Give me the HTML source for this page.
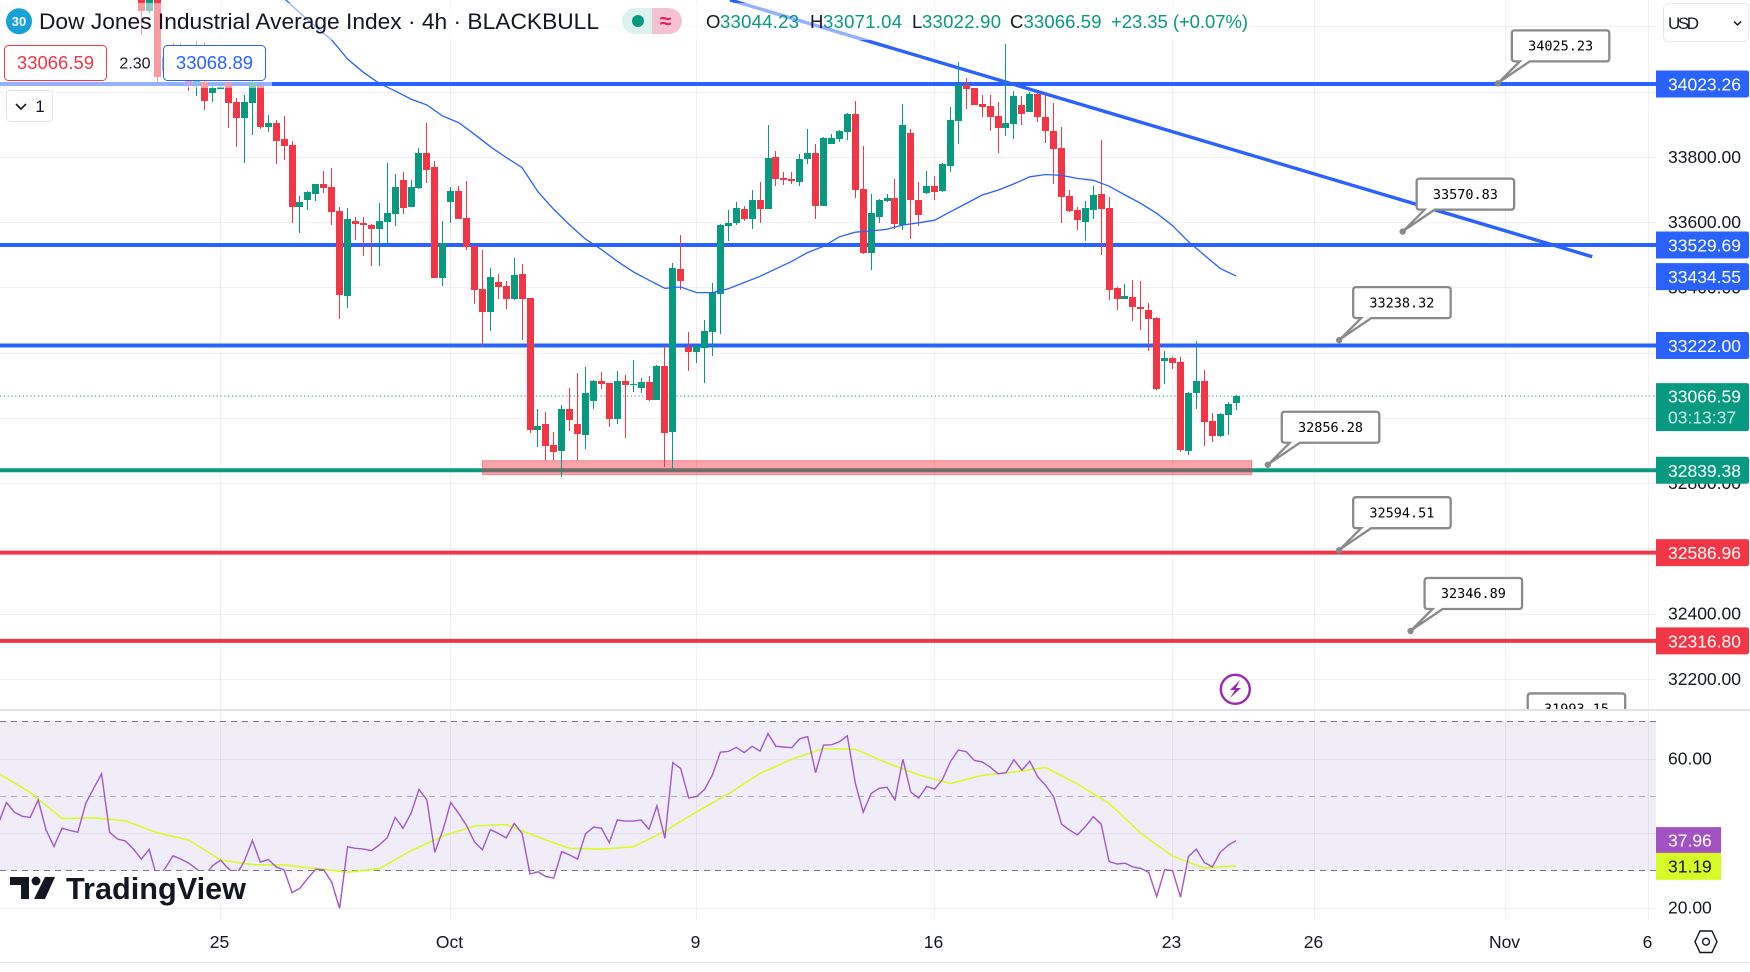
<!DOCTYPE html>
<html lang="en">
<head>
<meta charset="utf-8">
<title>Dow Jones Industrial Average Index 4h chart</title>
<style>
html,body{margin:0;padding:0;background:#fff;width:1750px;height:972px;overflow:hidden}
svg{display:block}
text{font-family:"Liberation Sans",sans-serif;fill:#131722}
</style>
</head>
<body>
<svg id="chart" xmlns="http://www.w3.org/2000/svg" width="1750" height="972" viewBox="0 0 1750 972">
  <defs>
    <clipPath id="main-clip"><rect x="0" y="0" width="1656" height="709"/></clipPath>
    <clipPath id="callout-clip"><rect x="0" y="0" width="1750" height="709"/></clipPath>
    <clipPath id="oversold-clip"><rect x="0" y="870.3" width="1656" height="60"/></clipPath>
    <linearGradient id="oversold-gradient" x1="0" y1="0" x2="0" y2="1">
      <stop offset="0" stop-color="#f23645" stop-opacity="0.09"/>
      <stop offset="1" stop-color="#f23645" stop-opacity="0.02"/>
    </linearGradient>
  </defs>
  <rect x="0" y="0" width="1750" height="972" fill="#ffffff"/>
  <g id="rsi-band-layer"></g>
  <g id="grid-layer"></g>
  <g id="main-layer" clip-path="url(#main-clip)"></g>
  <g id="axis-layer"></g>
  <g id="callout-layer" clip-path="url(#callout-clip)"></g>
  <g id="rsi-layer"></g>

  <rect x="0" y="709" width="1750" height="2" fill="#e0e3eb"/>
  <rect x="0" y="962" width="1750" height="1" fill="#e0e3eb"/>

  <rect x="0" y="3" width="1250" height="37" fill="#ffffff" opacity="0.5"/>
  <rect x="0" y="40" width="272" height="48" fill="#ffffff" opacity="0.5"/>

  <g>
    <circle cx="19" cy="21.3" r="13" fill="#18a0d8"/>
    <text x="19" y="26" text-anchor="middle" font-size="13" font-weight="bold" style="fill:#fff">30</text>
    <text x="39" y="29" font-size="22.5" textLength="560" lengthAdjust="spacingAndGlyphs">Dow Jones Industrial Average Index · 4h · BLACKBULL</text>
    <path d="M652 8H635a13 13 0 0 0 0 26H652Z" fill="#dcf2ee"/>
    <circle cx="638" cy="21" r="6" fill="#089981"/>
    <path d="M652 8H669a13 13 0 0 1 0 26H652Z" fill="#f5c2d3"/>
    <text x="665.5" y="28" text-anchor="middle" font-size="21" font-weight="bold" style="fill:#e91e63">≈</text>
    <text x="706" y="28" font-size="18.5">O</text>
    <text x="720" y="28" font-size="18.5" textLength="79" style="fill:#089981">33044.23</text>
    <text x="810" y="28" font-size="18.5">H</text>
    <text x="823" y="28" font-size="18.5" textLength="79" style="fill:#089981">33071.04</text>
    <text x="912" y="28" font-size="18.5">L</text>
    <text x="922" y="28" font-size="18.5" textLength="79" style="fill:#089981">33022.90</text>
    <text x="1010" y="28" font-size="18.5">C</text>
    <text x="1023.5" y="28" font-size="18.5" textLength="78" style="fill:#089981">33066.59</text>
    <text x="1111" y="28" font-size="18.5" textLength="137" style="fill:#089981">+23.35 (+0.07%)</text>
  </g>

  <rect x="4.5" y="45.5" width="102" height="35" rx="4" fill="#fff" stroke="#f23645" stroke-width="1"/>
  <text x="55.5" y="69" text-anchor="middle" font-size="18.5" style="fill:#f23645">33066.59</text>
  <text x="135" y="68.5" text-anchor="middle" font-size="16">2.30</text>
  <rect x="163.5" y="45.5" width="102" height="35" rx="4" fill="#fff" stroke="#2962ff" stroke-width="1"/>
  <text x="214.5" y="69" text-anchor="middle" font-size="18.5" style="fill:#2962ff">33068.89</text>

  <g>
    <rect x="6.5" y="90.5" width="46" height="31" rx="4" fill="#fff" stroke="#e0e3eb"/>
    <path d="M16 104l5 5 5-5" fill="none" stroke="#131722" stroke-width="1.6"/>
    <text x="40" y="112" text-anchor="middle" font-size="17">1</text>
  </g>

  <g>
    <rect x="1663.5" y="3.5" width="85" height="38" rx="5" fill="#fff" stroke="#e8eaef"/>
    <text x="1668" y="29" font-size="17" textLength="31">USD</text>
    <path d="M1734 21.5l3.5 3.5 3.5-3.5" fill="none" stroke="#131722" stroke-width="1.5"/>
  </g>

  <g>
    <circle cx="1235.3" cy="689.3" r="14.5" fill="#fff" stroke="#9c27b0" stroke-width="2.4"/>
    <path d="M1240 680l-10 10h5l-5 8 11-10h-5Z" fill="#9c27b0"/>
  </g>

  <rect x="8" y="871" width="240" height="34" fill="#ffffff"/>
  <g>
    <path d="M10 877H29V899H21V885H10Z" fill="#131722"/>
    <circle cx="36" cy="881" r="4.4" fill="#131722"/>
    <path d="M45 877H55L45 899H34Z" fill="#131722"/>
    <text x="66" y="899" font-size="31" font-weight="bold" textLength="180" lengthAdjust="spacingAndGlyphs">TradingView</text>
  </g>

  <g>
    <path d="M1700 931H1712L1717 941.7L1712 952.5H1700L1695 941.7Z" fill="none" stroke="#131722" stroke-width="1.4"/>
    <circle cx="1706" cy="941.7" r="3.4" fill="none" stroke="#131722" stroke-width="1.4"/>
  </g>
</svg>

<script>
// ---- Candle data (4h bars) ----
const opens = [
34301,34248,34291,34064,34128,34112,34076,34025,34030,33997,
34009,34025,33969,33920,33966,34017,33891,33904,33855,33836,
33646,33668,33686,33717,33707,33634,33373,33603,33597,33591,
33579,33600,33625,33729,33646,33704,33812,33769,33428,33661,
33695,33612,33526,33394,33324,33416,33404,33364,33440,33367,
32962,32980,32916,32898,33026,32980,32947,33051,33112,33106,
32996,33112,33100,33091,33109,33054,33158,32956,33456,33217,
33201,33214,33263,33379,33588,33597,33640,33609,33668,33640,
33799,33735,33732,33723,33793,33812,33649,33839,33855,33876,
33931,33701,33505,33615,33664,33674,33591,33873,33668,33689,
33710,33695,33772,33910,34020,34011,33962,33956,33925,33888,
33901,33959,33937,33993,33922,33879,33827,33680,33637,33600,
33637,33686,33643,33398,33364,33370,33339,33330,33306,33174,
33183,33171,32898,33076,33112,32990,32944,33008,33044.23];
const highs = [
34312,34312,34300,34128,34148,34148,34128,34156,34151,34030,
34030,34030,33979,33990,34035,34017,33928,33913,33925,33849,
33680,33694,33717,33756,33766,33647,33643,33616,33616,33594,
33658,33781,33747,33753,33729,33827,33904,33787,33603,33707,
33710,33726,33526,33514,33459,33440,33419,33490,33471,33367,
33026,33017,32956,33039,33091,33137,33155,33115,33140,33106,
33143,33131,33177,33121,33128,33161,33220,33474,33560,33263,
33223,33299,33413,33594,33637,33661,33649,33698,33723,33898,
33818,33753,33753,33809,33885,33839,33861,33870,33882,33934,
33971,33833,33686,33671,33686,33732,33962,33885,33723,33756,
33741,33781,33953,34091,34042,34011,33990,33990,33968,34146,
34002,33987,33999,33996,33993,33965,33891,33698,33646,33664,
33710,33852,33677,33401,33410,33422,33419,33352,33309,33204,
33186,33186,33079,33235,33146,33014,33014,33048,33071.04];
const lows = [
34174,34240,34030,34056,34046,34041,34003,33987,33944,33969,
34009,33887,33831,33782,33867,33885,33877,33779,33790,33598,
33567,33637,33664,33689,33591,33302,33336,33545,33496,33465,
33465,33523,33588,33625,33646,33701,33720,33428,33404,33597,
33609,33514,33348,33220,33266,33364,33333,33361,33238,32953,
32910,32870,32870,32818,32959,32870,32904,33026,33088,32971,
32980,32937,33079,33076,33051,33054,32848,32842,33391,33143,
33167,33106,33189,33256,33542,33591,33603,33579,33597,33640,
33710,33713,33717,33710,33778,33609,33649,33838,33845,33852,
33674,33502,33453,33597,33661,33579,33575,33548,33588,33686,
33668,33692,33753,33839,33947,33959,33922,33879,33812,33864,
33855,33898,33937,33907,33842,33717,33597,33631,33575,33542,
33609,33499,33361,33330,33364,33296,33269,33204,33085,33103,
33149,32894,32885,33026,32913,32925,32941,32947,33022.90];
const closes = [
34248,34305,34046,34107,34087,34061,34025,34066,33971,34010,
34015,33966,33920,33969,34030,33890,33904,33848,33833,33646,
33661,33692,33717,33704,33631,33376,33609,33595,33591,33579,
33603,33628,33707,33643,33707,33812,33760,33428,33536,33695,
33609,33523,33391,33324,33431,33401,33364,33437,33364,32962,
32974,32913,32894,33026,32993,32950,33076,33112,33103,32996,
33112,33100,33103,33109,33054,33158,32953,33459,33419,33201,
33220,33266,33385,33591,33597,33643,33609,33668,33640,33796,
33732,33729,33726,33793,33812,33649,33858,33858,33879,33931,
33698,33505,33628,33668,33674,33594,33898,33668,33622,33710,
33692,33778,33913,34020,34008,33959,33953,33922,33888,33904,
33987,33931,33993,33922,33879,33824,33677,33634,33606,33643,
33683,33640,33391,33364,33373,33339,33333,33302,33088,33183,
33167,32901,33076,33112,32986,32944,33011,33042,33066.59];

// Moving average on price, one value every maStep bars, starting at bar maStart
const maStart = 18;
const maStep = 2;
const maValues = [
34286,34241,34199,34158,34100,34059,34025,34002,33977,33959,
33925,33905,33869,33831,33798,33767,33693,33639,33591,33548,
33516,33480,33448,33422,33397,33401,33384,33384,33396,33415,
33434,33457,33480,33507,33526,33555,33569,33573,33578,33591,
33598,33606,33632,33657,33683,33698,33717,33739,33746,33743,
33734,33728,33710,33683,33657,33627,33589,33540,33499,33458,33434.55];

// RSI, one value per bar, starting at bar rsiStart
const rsiStart = -18;
const rsiValues = [
42.6,48.2,45.6,44.5,44.2,48.9,40.8,36.4,41.3,40.7,40.2,48.0,52.0,55.9,40.2,38.4,37.9,35.7,33.0,35.6,
27.8,30.5,33.9,33.0,31.9,30.3,28.5,31.3,32.7,30.4,28.8,32.5,38.0,32.2,32.9,30.9,30.1,24.0,25.2,27.9,
30.3,30.1,26.8,19.8,36.3,35.9,35.7,35.3,36.8,38.7,44.2,41.3,45.3,51.7,48.9,34.8,40.7,48.2,45.3,42.0,
37.6,35.5,40.9,39.9,38.7,42.6,39.9,29.0,29.6,28.3,27.9,35.0,34.1,33.0,39.8,41.6,41.3,37.4,43.5,43.2,
43.2,43.5,41.0,47.3,38.6,58.9,57.3,49.4,49.8,51.7,55.7,61.7,61.9,63.0,61.6,63.3,62.0,66.7,63.3,63.1,
62.9,65.3,65.9,56.2,63.6,63.7,64.5,66.1,53.4,45.6,50.6,52.0,52.3,48.9,59.8,51.0,49.4,52.5,51.8,54.4,
59.2,62.3,61.8,59.5,59.1,57.7,55.9,56.2,59.7,56.9,59.3,55.1,52.8,49.8,42.4,40.8,39.5,41.7,44.4,42.4,
32.4,31.7,31.9,30.9,30.5,29.4,22.9,30.2,29.9,22.8,33.7,35.7,32.1,30.9,34.8,36.7,37.96];

// RSI smoothing line, one value every rsiMaStep bars, starting at bar rsiStart
const rsiMaStep = 4;
const rsiMaValues = [
56.0,50.9,43.9,44.1,43.3,40.1,38.1,32.8,31.5,31.4,30.5,29.5,30.4,35.3,39.2,41.9,42.3,38.9,35.9,35.7,
36.3,40.5,45.7,50.5,56.0,59.8,62.7,62.5,58.8,55.6,53.3,55.5,56.4,57.6,53.2,48.0,39.9,33.8,30.6,31.19];

// Horizontal levels
const levelPrices = [34023.26, 33529.69, 33222.00, 32839.38, 32586.96, 32316.80];
const levelKinds = ['blue','blue','blue','green','red','red'];

// Trend line
const trendBars = [74.2, 182.9];
const trendPrices = [34281, 33494];

// Demand zone
const zoneBars = [43, 140];
const zonePrices = [32869, 32826];

// Callouts
const calloutPrices = [34025.23, 33570.83, 33238.32, 32856.28, 32594.51, 32346.89, 31993.15];
const calloutBars = [171, 159, 151, 142, 151, 160, 173];

// Axis ticks
const priceTicks = [34200,34000,33800,33600,33400,33200,33000,32800,32600,32400,32200];
const rsiTicks = [60,40,20];
const rsiTickLabels = ['60.00','20.00'];
const rsiTickLabelValues = [60,20];
const rsiBands = [70,50,30];
const timeLabels = ['25','Oct','9','16','23','26','Nov','6'];
const timeBars = [10,39,70,100,130,148,172,190];

// Last values
const lastPrice = 33066.59;
const countdown = '03:13:37';
const maLast = 33434.55;
const rsiLast = 37.96;
const rsiMaLast = 31.19;

// ---- Axis functions ----
function xOf(bar){ return 141.3 + 7.933 * bar; }
function yOf(price){ return 84 + (34023.26 - price) * 0.3263; }
function rsiY(v){ return 721.3 + (70 - v) * 3.725; }

const NS = 'http://www.w3.org/2000/svg';
const colors = {blue:'#2962ff', green:'#089981', red:'#f23645'};
function make(tag, parent, attrs, txt){
  const e = document.createElementNS(NS, tag);
  for (const k in attrs) e.setAttribute(k, attrs[k]);
  if (txt !== undefined) e.textContent = txt;
  parent.appendChild(e);
  return e;
}
const gBand = document.getElementById('rsi-band-layer');
const gGrid = document.getElementById('grid-layer');
const gMain = document.getElementById('main-layer');
const gAxis = document.getElementById('axis-layer');
const gCall = document.getElementById('callout-layer');
const gRsi = document.getElementById('rsi-layer');
const gridColor = 'rgba(42,46,57,0.065)';

// RSI band
const band = make('rect', gBand, {x:0, y:rsiY(rsiBands[0]), width:1656, height:rsiY(rsiBands[2])-rsiY(rsiBands[0]), fill:'#f0edf8'});



// Vertical grid and time labels
timeBars.forEach((b, i) => {
  const x = Math.round(xOf(b)) - 0.5;
  const line = make('line', gGrid, {x1:x, x2:x, y1:0, y2:920, stroke:gridColor, 'stroke-width':1});
  
  
  const t = make('text', gAxis, {x:x-1, y:948, 'text-anchor':'middle', 'font-size':17.5}, timeLabels[i]);
  
  
});

// Horizontal grid and price ticks
priceTicks.forEach(p => {
  const y = Math.round(yOf(p)) + 0.5;
  const line = make('line', gGrid, {x1:0, x2:1656, y1:y, y2:y, stroke:gridColor, 'stroke-width':1});
  
  
  const t = make('text', gAxis, {x:1668, y:yOf(p)+6, 'font-size':17.5}, p.toFixed(2));
  
  
});

// Level lines
levelPrices.forEach((p, i) => {
  const y = yOf(p);
  const line = make('line', gMain, {x1:0, x2:1656, y1:y, y2:y, stroke:colors[levelKinds[i]], 'stroke-width':4});
  
  
});

// Current price dotted line
const lastLine = make('line', gMain, {x1:0, x2:1656, y1:yOf(lastPrice), y2:yOf(lastPrice), stroke:'#089981', 'stroke-width':1, 'stroke-dasharray':'1.2 2.6'});



// Zone
const zone = make('rect', gMain, {x:xOf(zoneBars[0]), y:yOf(zonePrices[0]), width:xOf(zoneBars[1])-xOf(zoneBars[0]), height:yOf(zonePrices[1])-yOf(zonePrices[0]), fill:'rgba(242,54,69,0.46)', stroke:'rgba(242,54,69,0.45)', 'stroke-width':1});



// Trend line
const trend = make('line', gMain, {x1:xOf(trendBars[0]), y1:yOf(trendPrices[0]), x2:xOf(trendBars[1]), y2:yOf(trendPrices[1]), stroke:'#2962ff', 'stroke-width':3.4});



// Candles
opens.forEach((o, i) => {
  const c = closes[i], h = highs[i], l = lows[i];
  const col = c >= o ? colors.green : colors.red;
  const px = Math.floor(xOf(i));
  const top = Math.round(yOf(Math.max(o, c)));
  const bot = Math.round(yOf(Math.min(o, c)));
  const wt = Math.round(yOf(h));
  const wb = Math.round(yOf(l));
  const wick = make('rect', gMain, {x:px, y:wt, width:1, height:Math.max(1, wb-wt), fill:col, 'shape-rendering':'crispEdges'});
  
  
  const body = make('rect', gMain, {x:px-3, y:top, width:7, height:Math.max(1, bot-top), fill:col, 'shape-rendering':'crispEdges'});
  
  
});

// Moving average line
const maPts = maValues.map((v, i) => xOf(maStart + i*maStep).toFixed(1) + ',' + yOf(v).toFixed(1)).join(' ');
const maLine = make('polyline', gMain, {points:maPts, fill:'none', stroke:'#2962ff', 'stroke-width':1.3});



// Callouts
calloutPrices.forEach((p, i) => {
  const dx = xOf(calloutBars[i]), dy = yOf(p);
  const bx = dx + 14, by = dy - 53, w = 97.5, h = 31, r = 3;
  const d = 'M'+(bx+r)+' '+by+'H'+(bx+w-r)+'Q'+(bx+w)+' '+by+' '+(bx+w)+' '+(by+r)+'V'+(by+h-r)+'Q'+(bx+w)+' '+(by+h)+' '+(bx+w-r)+' '+(by+h)+
    'H'+(dx+32)+'L'+(dx+1)+' '+(dy-1)+'L'+(dx+22)+' '+(by+h)+'H'+(bx+r)+'Q'+bx+' '+(by+h)+' '+bx+' '+(by+h-r)+'V'+(by+r)+'Q'+bx+' '+by+' '+(bx+r)+' '+by+'Z';
  const shape = make('path', gCall, {d:d, fill:'#ffffff', stroke:'#8a8a8a', 'stroke-width':2.3});
  
  
  const dot = make('circle', gCall, {cx:dx, cy:dy, r:3.2, fill:'#8a8a8a'});
  
  
  const t = make('text', gCall, {x:bx+w/2, y:by+20.2, 'text-anchor':'middle', 'font-size':13.5, style:'font-family:"DejaVu Sans Mono",monospace;fill:#000'}, p.toFixed(2));
  
  
});

// Axis value boxes
function axisBox(top, height, fill){
  const box = make('path', gAxis, {d:'M1656 '+top+'H1746.5Q1749 '+top+' 1749 '+(top+2.5)+'V'+(top+height-2.5)+'Q1749 '+(top+height)+' 1746.5 '+(top+height)+'H1656Z', fill:fill});
  return box;
}
levelPrices.forEach((p, i) => {
  const y = yOf(p);
  const box = axisBox(y-13.5, 27, colors[levelKinds[i]]);
  
  
  const t = make('text', gAxis, {x:1668, y:y+6.5, 'font-size':17.5, style:'fill:#fff'}, p.toFixed(2));
  
  
});
const maBox = axisBox(yOf(maLast)-13, 27, '#2962ff');


const maText = make('text', gAxis, {x:1668, y:yOf(maLast)+7, 'font-size':17.5, style:'fill:#fff'}, maLast.toFixed(2));


const curBox = axisBox(yOf(lastPrice)-13, 48, '#089981');


const curText = make('text', gAxis, {x:1668, y:yOf(lastPrice)+6.5, 'font-size':17.5, style:'fill:#fff'}, lastPrice.toFixed(2));


const cdText = make('text', gAxis, {x:1668, y:yOf(lastPrice)+27.5, 'font-size':17.5, style:'fill:#cdeae4'}, countdown);



// RSI grid, bands
rsiTicks.forEach(v => {
  const y = Math.round(rsiY(v)) + 0.5;
  const line = make('line', gRsi, {x1:0, x2:1656, y1:y, y2:y, stroke:gridColor, 'stroke-width':1});
  
  
});
rsiBands.forEach((v, i) => {
  const y = Math.round(rsiY(v)) + 0.5;
  const line = make('line', gRsi, {x1:0, x2:1656, y1:y, y2:y, stroke:i === 1 ? 'rgba(120,123,134,0.55)' : '#787b86', 'stroke-width':1, 'stroke-dasharray':'6 5'});
  
  
});
rsiTickLabels.forEach((s, i) => {
  const t = make('text', gRsi, {x:1668, y:rsiY(rsiTickLabelValues[i])+6, 'font-size':17.5}, s);
  
  
});

// RSI oversold fill
const rsiPts = rsiValues.map((v, i) => xOf(rsiStart + i).toFixed(1) + ',' + rsiY(v).toFixed(1));
const fillPoly = make('polygon', gRsi, {points:rsiPts.join(' ') + ' ' + xOf(rsiStart + rsiValues.length - 1).toFixed(1) + ',' + rsiY(30) + ' ' + xOf(rsiStart).toFixed(1) + ',' + rsiY(30), fill:'url(#oversold-gradient)', 'clip-path':'url(#oversold-clip)'});



// RSI MA line
const rsiMaPts = rsiMaValues.map((v, i) => xOf(rsiStart + i*rsiMaStep).toFixed(1) + ',' + rsiY(v).toFixed(1)).join(' ');
const rsiMaLine = make('polyline', gRsi, {points:rsiMaPts, fill:'none', stroke:'#d6fb27', 'stroke-width':1.6});



// RSI line
const rsiLine = make('polyline', gRsi, {points:rsiPts.join(' '), fill:'none', stroke:'#a258c8', 'stroke-width':1.4});



// RSI value tags
const rsiBox = make('rect', gRsi, {x:1656, y:rsiY(rsiLast)-13.5, width:65, height:26.5, fill:'#a352c2'});


const rsiText = make('text', gRsi, {x:1668, y:rsiY(rsiLast)+6, 'font-size':17.5, style:'fill:#fff'}, rsiLast.toFixed(2));


const rsiMaBox = make('rect', gRsi, {x:1656, y:rsiY(rsiMaLast)-13, width:65, height:27, fill:'#d6fb27'});


const rsiMaText = make('text', gRsi, {x:1668, y:rsiY(rsiMaLast)+6.5, 'font-size':17.5}, rsiMaLast.toFixed(2));


</script>
</body>
</html>
